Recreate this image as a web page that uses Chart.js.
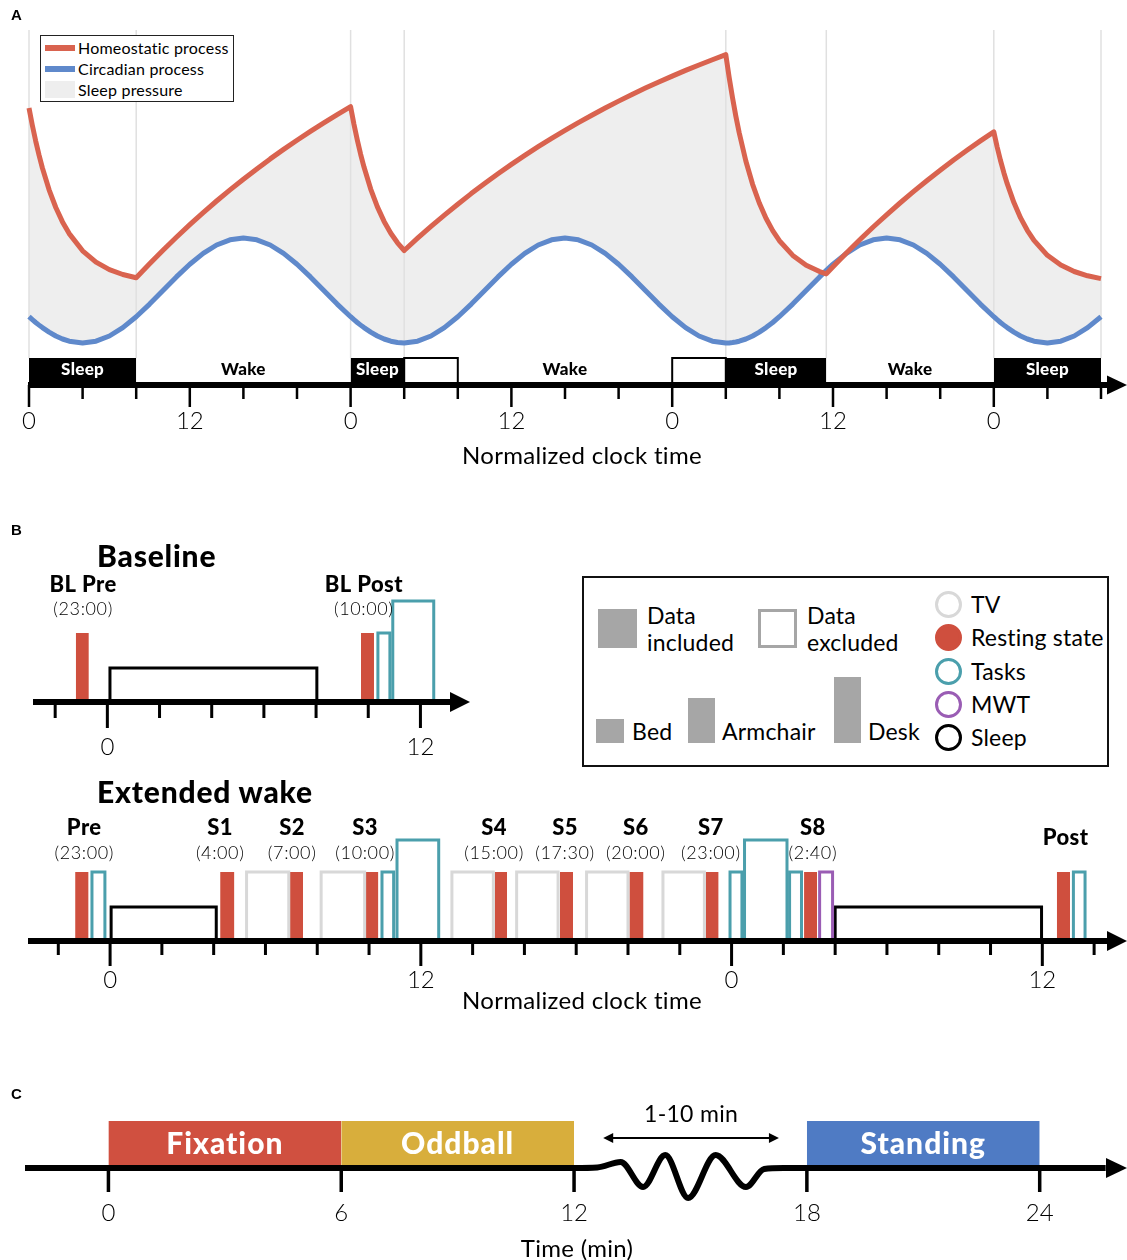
<!DOCTYPE html>
<html><head><meta charset="utf-8"><title>Sleep study design</title>
<script src="https://cdn.jsdelivr.net/npm/chart.js@4.4.1/dist/chart.umd.min.js"></script>
<style>
html,body{margin:0;padding:0;background:#fff;}
body{width:1127px;height:1260px;position:relative;overflow:hidden;font-family:Lato,'DejaVu Sans',sans-serif;color:#000;}
canvas{position:absolute;}
.t{position:absolute;white-space:nowrap;}
.box{position:absolute;box-sizing:border-box;}
.let{position:absolute;font:bold 15px 'Liberation Sans',Arial,sans-serif;line-height:18px;}
.lg{position:absolute;white-space:nowrap;font:23px Lato;line-height:28px;letter-spacing:0.2px;}
.circ{position:absolute;box-sizing:border-box;width:27px;height:27px;border-radius:50%;border:3px solid #000;}
.ttl{position:absolute;white-space:nowrap;font:900 30px Lato;line-height:36px;letter-spacing:0.8px;}
.ax{position:absolute;white-space:nowrap;text-align:center;width:400px;font:24px Lato;line-height:30px;letter-spacing:0.3px;}
.la{position:absolute;white-space:nowrap;font:16px Lato;line-height:20px;letter-spacing:0.2px;}
</style></head><body>
<canvas id="cA" width="1127" height="480" style="left:0;top:0"></canvas>
<canvas id="cB1" width="480" height="250" style="left:0;top:520px"></canvas>
<canvas id="cB2" width="1127" height="250" style="left:0;top:770px"></canvas>
<canvas id="cC" width="1127" height="180" style="left:0;top:1080px"></canvas>

<!-- Panel letters -->
<div class="let" style="left:11px;top:6px">A</div>
<div class="let" style="left:11px;top:521px">B</div>
<div class="let" style="left:11px;top:1085px">C</div>

<!-- Panel A legend -->
<div class="box" style="left:40px;top:35px;width:194px;height:67px;border:1px solid #222;background:#fff"></div>
<div class="box" style="left:45px;top:45px;width:30px;height:6px;background:#d9634f"></div>
<div class="box" style="left:45px;top:66px;width:30px;height:6px;background:#5f89cb"></div>
<div class="box" style="left:45px;top:81px;width:30px;height:17px;background:#eeeeee"></div>
<div class="la" style="left:78px;top:38px">Homeostatic process</div>
<div class="la" style="left:78px;top:59px">Circadian process</div>
<div class="la" style="left:78px;top:80px">Sleep pressure</div>
<div class="ax" style="left:382px;top:440px">Normalized clock time</div>

<!-- Panel B titles -->
<div class="ttl" style="left:97px;top:537px">Baseline</div>
<div class="ttl" style="left:97px;top:773px">Extended wake</div>
<div class="ax" style="left:382px;top:985px">Normalized clock time</div>

<!-- Panel B legend -->
<div class="box" style="left:582px;top:576px;width:527px;height:191px;border:2px solid #111"></div>
<div class="box" style="left:598px;top:609px;width:39px;height:39px;background:#a6a6a6"></div>
<div class="lg" style="left:647px;top:602px;line-height:27px">Data<br>included</div>
<div class="box" style="left:758px;top:609px;width:39px;height:39px;border:3px solid #a6a6a6"></div>
<div class="lg" style="left:807px;top:602px;line-height:27px">Data<br>excluded</div>
<div class="box" style="left:596px;top:719px;width:28px;height:24px;background:#a6a6a6"></div>
<div class="lg" style="left:632px;top:717px">Bed</div>
<div class="box" style="left:688px;top:698px;width:27px;height:45px;background:#a6a6a6"></div>
<div class="lg" style="left:722px;top:717px">Armchair</div>
<div class="box" style="left:834px;top:677px;width:27px;height:66px;background:#a6a6a6"></div>
<div class="lg" style="left:868px;top:717px">Desk</div>
<div class="circ" style="left:935px;top:591px;border-color:#d8d8d8"></div>
<div class="circ" style="left:935px;top:624px;border-color:#cf4f3e;background:#cf4f3e"></div>
<div class="circ" style="left:935px;top:658px;border-color:#4b9fac"></div>
<div class="circ" style="left:935px;top:691px;border-color:#9a5db4"></div>
<div class="circ" style="left:935px;top:724px;border-color:#000"></div>
<div class="lg" style="left:971px;top:590px">TV</div>
<div class="lg" style="left:971px;top:623px">Resting state</div>
<div class="lg" style="left:971px;top:657px">Tasks</div>
<div class="lg" style="left:971px;top:690px">MWT</div>
<div class="lg" style="left:971px;top:723px">Sleep</div>

<!-- Panel C title -->
<div class="ax" style="left:377px;top:1233px">Time (min)</div>

<script>
// ================= DATA =================
// ---- Panel A: two-process model (hours since first 00:00) ----
const hours = [0,0.25,0.5,0.75,1,1.5,2,2.5,3,4,5,6,7,8,
 9,10,11,12,13,14,15,16,17,18,19,20,21,22,23,24,
 24.25,24.5,24.75,25,25.5,26,26.5,27,27.5,28,
 29,30,31,32,33,34,35,36,37,38,39,40,41,42,43,44,45,46,47,48,49,50,51,52,
 52.25,52.5,52.75,53,53.5,54,54.5,55,55.5,56,57,58,59,59.5,
 60,61,62,63,64,65,66,67,68,69,70,71,72,
 72.25,72.5,72.75,73,73.5,74,74.5,75,76,77,78,79,80];
const homeostatic = [274,256.6,240.9,226.8,214,192.2,174.5,160.1,148.4,131.2,119.9,112.4,107.5,104.3,
 118.3,131.8,144.8,157.3,169.4,181,192.1,202.8,213.1,223.1,232.6,241.8,250.7,259.2,267.4,275.3,
 257.7,242,227.7,214.9,192.9,175.1,160.6,148.8,139.2,131.5,
 143.8,155.6,166.9,177.8,188.4,198.5,208.2,217.6,226.6,235.3,243.6,251.6,259.4,266.8,274,280.9,287.5,293.9,300,305.9,311.6,317,322.3,327.4,
 304.7,284.3,265.8,249.2,220.8,197.7,179,163.7,151.4,141.3,126.6,116.8,110.4,108.1,
 115.2,129,142.2,155,167.2,179,190.4,201.3,211.8,222,231.7,241.1,250.1,
 235,221.5,209.3,198.3,179.4,164.1,151.7,141.6,126.7,116.9,110.5,106.2,103.4];
const circadian = [65.3,62.3,59.5,56.9,54.4,49.9,46,43,40.8,39,40.8,46,54.4,65.3,
 77.9,91.5,105.1,117.8,128.6,137,142.2,144,142.2,137,128.6,117.8,105.1,91.5,77.9,65.3,
 62.3,59.5,56.9,54.4,49.9,46,43,40.8,39.5,39,
 40.8,46,54.4,65.3,77.9,91.5,105.1,117.8,128.6,137,142.2,144,142.2,137,128.6,117.8,105.1,91.5,77.9,65.3,54.4,46,40.8,39,
 39.1,39.5,40,40.8,43,46,49.9,54.4,59.5,65.3,77.9,91.5,105.1,111.6,
 117.8,128.6,137,142.2,144,142.2,137,128.6,117.8,105.1,91.5,77.9,65.3,
 62.3,59.5,56.9,54.4,49.9,46,43,40.8,39,40.8,46,54.4,65.3];
const sleepStart = [0, 24, 52, 72];
const sleepEnd   = [8, 28, 59.5, 80];
const missedSleepStart = [28, 48];
const missedSleepEnd   = [32, 52];
const wakeLabelHour = [16, 40, 65.75];
const ticksA = [0,4,8,12,16,20,24,28,32,36,40,44,48,52,56,60,64,68,72,76,80];
const tickLabelsA = ['0','','','12','','','0','','','12','','','0','','','12','','','0','',''];

// ---- Panel B: baseline night ----
const blStart   = [-1.21, 0.1, 9.72, 10.37, 10.94];
const blEnd     = [-0.71, 8.03, 10.22, 10.83, 12.51];
const blType    = ['rest','sleep','rest','task','task'];
const blPosture = ['armchair','bed','armchair','armchair','desk'];
const blSessionName = ['BL Pre','BL Post'];
const blSessionTime = ['(23:00)','(10:00)'];
const blSessionHour = [-0.93, 9.83];
const ticksB1 = [-2,0,2,4,6,8,10,12];
const tickLabelsB1 = ['','0','','','','','','12'];

// ---- Panel B: extended wake ----
const ewStart = [-1.35,-0.7,0.04,4.25,5.27,6.94,8.15,9.86,10.5,11.08,13.2,14.85,15.7,17.37,18.4,20.05,21.35,23.0,23.94,24.5,26.24,26.8,27.4,28.0,36.56,37.2];
const ewEnd   = [-0.83,-0.2,4.1,4.8,6.9,7.45,9.83,10.36,10.95,12.69,14.8,15.33,17.3,17.88,20.0,20.6,22.95,23.5,24.4,26.14,26.7,27.3,27.9,35.97,37.07,37.65];
const ewType  = ['rest','task','sleep','rest','tv','rest','tv','rest','task','task','tv','rest','tv','rest','tv','rest','tv','rest','task','task','task','rest','mwt','sleep','rest','task'];
const ewPosture = ['armchair','armchair','bed','armchair','armchair','armchair','armchair','armchair','armchair','desk','armchair','armchair','armchair','armchair','armchair','armchair','armchair','armchair','armchair','desk','armchair','armchair','armchair','bed','armchair','armchair'];
const ewSessionName = ['Pre','S1','S2','S3','S4','S5','S6','S7','S8','Post'];
const ewSessionTime = ['(23:00)','(4:00)','(7:00)','(10:00)','(15:00)','(17:30)','(20:00)','(23:00)','(2:40)',''];
const ewSessionHour = [-1.0, 4.25, 7.03, 9.85, 14.83, 17.57, 20.3, 23.2, 27.14, 36.9];
const ticksB2 = [-2,0,2,4,6,8,10,12,14,16,18,20,22,24,26,28,30,32,34,36,38];
const tickLabelsB2 = ['','0','','','','','','12','','','','','','0','','','','','','12',''];

// ---- Panel C: session protocol (minutes) ----
const stageName  = ['Fixation','Oddball','Standing'];
const stageStart = [0, 6, 18];
const stageEnd   = [6, 12, 24];
const gapX = [-2.15, 12, 12.6, 13.2, 13.78, 14.35, 14.94, 15.65, 16.43, 16.9, 17.4, 18, 25.7];
const gapY = [0, 0, 0.5, 6, -19, 13, -30, 13, -19, -1, 0, 0, 0];
const gapLabel = '1-10 min';
const gapArrowFrom = 12.75, gapArrowTo = 17.28;
const ticksC = [0, 6, 12, 18, 24];
const tickLabelsC = ['0','6','12','18','24'];

// ================= STYLE =================
const typeColor = {rest:'#cf4f3e', task:'#4b9fac', tv:'#d8d8d8', mwt:'#9a5db4', sleep:'#000000'};
const postureHeight = {bed:31, armchair:66, desk:98};
const stageColor = ['#d05040','#d8ae3c','#4f7bc4'];

// ================= HELPERS =================
function rect(x0,x1,h){return [{x:x0,y:0},{x:x0,y:h},{x:x1,y:h},{x:x1,y:0}];}
function filledRect(x0,x1,h,color){
  return {data:rect(x0,x1,h),borderWidth:0,borderColor:color,backgroundColor:color,fill:'origin',
          pointRadius:0,tension:0,clip:false,order:6};
}
function outlineRect(x0,x1,h,color,w){
  return {data:rect(x0,x1,h),borderWidth:w,borderColor:color,backgroundColor:'rgba(0,0,0,0)',fill:false,
          pointRadius:0,tension:0,borderJoinStyle:'miter',borderCapStyle:'butt',clip:false,order:5};
}
function baseOptions(pad,xmin,xmax,ymin,ymax){
  return {responsive:false,animation:false,events:[],
    layout:{padding:pad},
    plugins:{legend:{display:false},tooltip:{enabled:false},filler:{drawTime:'beforeDatasetsDraw',propagate:false}},
    scales:{x:{type:'linear',display:false,min:xmin,max:xmax},
            y:{type:'linear',display:false,min:ymin,max:ymax}},
    elements:{point:{radius:0,hoverRadius:0}}};
}
function spaced(ctx,px){ if('letterSpacing' in ctx) ctx.letterSpacing=px+'px'; }
function axisLine(ctx,x0,tip,y,lw,headLen,headHalf){
  ctx.save(); ctx.fillStyle='#000';
  ctx.fillRect(x0,y-lw/2,tip-headLen+2-x0,lw);
  ctx.beginPath(); ctx.moveTo(tip,y); ctx.lineTo(tip-headLen,y-headHalf); ctx.lineTo(tip-headLen,y+headHalf);
  ctx.closePath(); ctx.fill(); ctx.restore();
}
function drawTicks(ctx,xs,vals,labels,yTop,minorEnd,majorEnd,lw,labelY,font){
  ctx.save(); ctx.fillStyle='#000'; ctx.font=font; ctx.textAlign='center'; ctx.textBaseline='middle';
  vals.forEach((v,i)=>{
    const px=xs.getPixelForValue(v); const major=labels[i]!=='';
    ctx.fillRect(px-lw/2,yTop,lw,(major?majorEnd:minorEnd)-yTop);
    if(major) ctx.fillText(labels[i],px,labelY);
  });
  ctx.restore();
}
function barDatasets(starts,ends,types,postures){
  return starts.map((s,i)=>{
    const h=postureHeight[postures[i]], c=typeColor[types[i]];
    return types[i]==='rest' ? filledRect(s,ends[i],h,c) : outlineRect(s,ends[i],h,c,3);
  });
}
function sessionLabels(ctx,xs,names,times,hrs,yName,yTime,yNameAlone){
  ctx.save(); ctx.fillStyle='#000'; ctx.textAlign='center'; ctx.textBaseline='middle';
  names.forEach((n,i)=>{
    const px=xs.getPixelForValue(hrs[i]);
    ctx.font='900 22px Lato'; spaced(ctx,0.4);
    ctx.fillText(n,px,times[i]===''?yNameAlone:yName);
    if(times[i]!==''){ctx.font='300 18px Lato'; spaced(ctx,0.6); ctx.fillText(times[i],px,yTime);}
  });
  ctx.restore();
}

// ================= PANEL A =================
const RED_A='#d9634f', BLUE_A='#5f89cb';
const xyA = vals => hours.map((h,i)=>({x:h,y:vals[i]}));
const dsA = [
  {label:'Homeostatic process',data:xyA(homeostatic),borderColor:RED_A,borderWidth:5,
   fill:{target:1,above:'#eeeeee',below:'#eeeeee'},pointRadius:0,tension:0,order:1,borderJoinStyle:'round',clip:false},
  {label:'Circadian process',data:xyA(circadian),borderColor:BLUE_A,borderWidth:5,fill:false,
   pointRadius:0,tension:0,order:2,borderJoinStyle:'round',clip:false}
];
sleepStart.forEach((s,i)=>dsA.push(filledRect(s,sleepEnd[i],24,'#000')));
missedSleepStart.forEach((s,i)=>dsA.push(outlineRect(s,missedSleepEnd[i],24,'#000',2)));

new Chart(document.getElementById('cA'),{type:'line',data:{datasets:dsA},
  options:baseOptions({left:29,right:26,top:30,bottom:98},0,80,0,352),
  plugins:[{id:'pA',
    beforeDatasetsDraw(chart){
      const {ctx,scales:{x,y}}=chart;
      ctx.save(); ctx.strokeStyle='#e0e0e0'; ctx.lineWidth=1.5;
      [...sleepStart,...sleepEnd].forEach(h=>{
        const px=x.getPixelForValue(h);
        ctx.beginPath(); ctx.moveTo(px,y.getPixelForValue(352)); ctx.lineTo(px,y.getPixelForValue(24)); ctx.stroke();
      });
      ctx.restore();
    },
    afterDatasetsDraw(chart){
      const {ctx,scales:{x,y}}=chart; const y0=y.getPixelForValue(0);
      axisLine(ctx,x.getPixelForValue(0)-1,1127,y0+3,6,20,9.5);
      drawTicks(ctx,x,ticksA,tickLabelsA,y0+3,y0+17,y0+25,2.5,y0+39,'300 24px Lato');
      ctx.save(); ctx.font='900 17px Lato'; spaced(ctx,0.3); ctx.textAlign='center'; ctx.textBaseline='middle';
      ctx.fillStyle='#fff';
      sleepStart.forEach((s,i)=>ctx.fillText('Sleep',x.getPixelForValue((s+sleepEnd[i])/2),y.getPixelForValue(12)));
      ctx.fillStyle='#000';
      wakeLabelHour.forEach(h=>ctx.fillText('Wake',x.getPixelForValue(h),y.getPixelForValue(12)));
      ctx.restore();
    }}]
});

// ================= PANEL B1 =================
new Chart(document.getElementById('cB1'),{type:'line',
  data:{datasets:barDatasets(blStart,blEnd,blType,blPosture)},
  options:baseOptions({left:33,right:10,top:79,bottom:71},-2.85,13.9,0,100),
  plugins:[{id:'pB1',afterDatasetsDraw(chart){
    const {ctx,scales:{x,y}}=chart; const y0=y.getPixelForValue(0);
    axisLine(ctx,x.getPixelForValue(-2.85),470,y0+3,6,20,10);
    drawTicks(ctx,x,ticksB1,tickLabelsB1,y0+3,y0+19,y0+29,3,y0+48,'300 24px Lato');
    sessionLabels(ctx,x,blSessionName,blSessionTime,blSessionHour,y0-114,y0-90,y0-104);
  }}]
});

// ================= PANEL B2 =================
new Chart(document.getElementById('cB2'),{type:'line',
  data:{datasets:barDatasets(ewStart,ewEnd,ewType,ewPosture)},
  options:baseOptions({left:28,right:0,top:68,bottom:82},-3.17,39.27,0,100),
  plugins:[{id:'pB2',afterDatasetsDraw(chart){
    const {ctx,scales:{x,y}}=chart; const y0=y.getPixelForValue(0);
    axisLine(ctx,x.getPixelForValue(-3.17),1127,y0+3,6,20,10);
    drawTicks(ctx,x,ticksB2,tickLabelsB2,y0+3,y0+17,y0+28,3,y0+42,'300 24px Lato');
    sessionLabels(ctx,x,ewSessionName,ewSessionTime,ewSessionHour,y0-110,y0-85,y0-100);
  }}]
});

// ================= PANEL C =================
const dsC = stageStart.map((s,i)=>filledRect(s,stageEnd[i],47,stageColor[i]));
dsC.push({data:gapX.map((v,i)=>({x:v,y:gapY[i]})),borderColor:'#000',borderWidth:6,fill:false,
  cubicInterpolationMode:'monotone',pointRadius:0,order:1,clip:false,borderCapStyle:'butt'});
new Chart(document.getElementById('cC'),{type:'line',data:{datasets:dsC},
  options:baseOptions({left:25,right:0,top:20,bottom:52},-2.15,26.25,-40,68),
  plugins:[{id:'pC',afterDatasetsDraw(chart){
    const {ctx,scales:{x,y}}=chart; const y0=y.getPixelForValue(0);
    ctx.save(); ctx.fillStyle='#000'; ctx.beginPath(); ctx.moveTo(1127,y0); ctx.lineTo(1106,y0-10); ctx.lineTo(1106,y0+10); ctx.closePath(); ctx.fill(); ctx.restore();
    drawTicks(ctx,x,ticksC,tickLabelsC,y0,y0+24,y0+24,3.5,y0+45,'300 24px Lato');
    ctx.save(); ctx.textAlign='center'; ctx.textBaseline='middle';
    ctx.fillStyle='#fff'; ctx.font='900 30px Lato'; spaced(ctx,1);
    stageName.forEach((n,i)=>ctx.fillText(n,x.getPixelForValue((stageStart[i]+stageEnd[i])/2),y.getPixelForValue(24)));
    spaced(ctx,0.3);
    const ay=y.getPixelForValue(30), ax0=x.getPixelForValue(gapArrowFrom), ax1=x.getPixelForValue(gapArrowTo);
    ctx.fillStyle='#000'; ctx.strokeStyle='#000'; ctx.lineWidth=2;
    ctx.beginPath(); ctx.moveTo(ax0+6,ay); ctx.lineTo(ax1-6,ay); ctx.stroke();
    ctx.beginPath(); ctx.moveTo(ax0,ay); ctx.lineTo(ax0+10,ay-5); ctx.lineTo(ax0+10,ay+5); ctx.closePath(); ctx.fill();
    ctx.beginPath(); ctx.moveTo(ax1,ay); ctx.lineTo(ax1-10,ay-5); ctx.lineTo(ax1-10,ay+5); ctx.closePath(); ctx.fill();
    ctx.font='23px Lato';
    ctx.fillText(gapLabel,(ax0+ax1)/2,y.getPixelForValue(53));
    ctx.restore();
  }}]
});
</script>
</body></html>
